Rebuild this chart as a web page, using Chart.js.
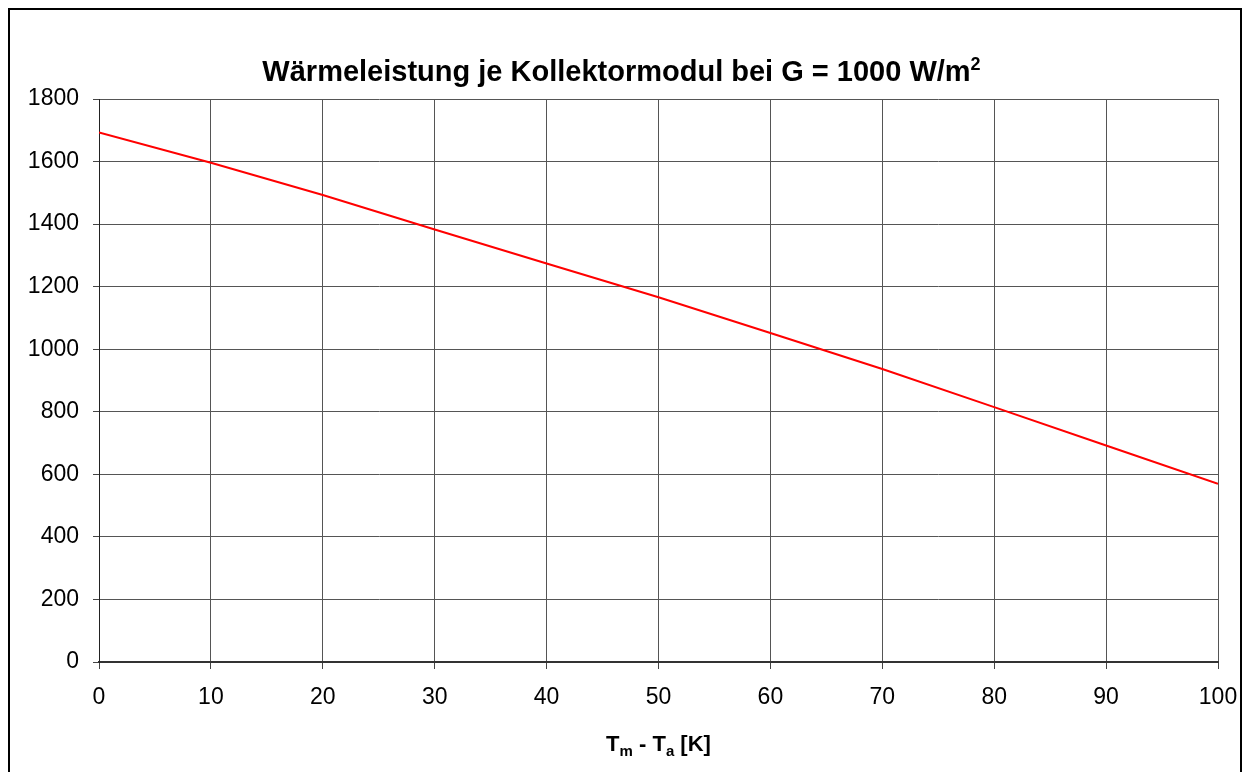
<!DOCTYPE html>
<html>
<head>
<meta charset="utf-8">
<script src="https://cdn.jsdelivr.net/npm/chart.js@4"></script>
<style>
  html, body { margin: 0; padding: 0; background: #fff; }
  #wrap { position: relative; width: 1243px; height: 772px; overflow: hidden; }
  #frame { position: absolute; left: 8px; top: 8px; width: 1234px; height: 800px; border: 2px solid #000; box-sizing: border-box; }
  #title { position: absolute; left: 0; width: 1243px; top: 55px; line-height: 34px; text-align: center; font: bold 29px "Liberation Sans", Arial, sans-serif; color: #000; }
  #title sup { font-size: 18px; line-height: 0; }
  #xtitle { position: absolute; left: 0; width: 1317px; top: 731px; line-height: 26px; text-align: center; font: bold 22px "Liberation Sans", Arial, sans-serif; color: #000; }
  #xtitle sub { font-size: 15px; line-height: 0; }
  canvas { position: absolute; left: 0; top: 0; }
</style>
</head>
<body>
<div id="wrap">
  <div id="frame"></div>
  <canvas id="chart" width="1243" height="772"></canvas>
  <div id="title">Wärmeleistung je Kollektormodul bei G = 1000 W/m<sup>2</sup></div>
  <div id="xtitle">T<sub>m</sub> - T<sub>a</sub> [K]</div>
</div>
<script>
const tempDiff = [0, 10, 20, 30, 40, 50, 60, 70, 80, 90, 100];
const heatOutput = [1693, 1596, 1493, 1383, 1274, 1166, 1052, 937, 815, 692, 570];

const ctx = document.getElementById("chart");
const tickFont = { family: "Liberation Sans, Arial", size: 23 };

new Chart(ctx, {
    type: "line",
    data: {
        datasets: [{
            data: tempDiff.map((x, i) => ({ x: x, y: heatOutput[i] })),
            borderColor: "#ff0000",
            borderWidth: 2,
            pointRadius: 0,
            fill: false,
            tension: 0
        }]
    },
    options: {
        responsive: false,
        animation: false,
        layout: { padding: { top: 99, right: 25, left: 0, bottom: 0 } },
        plugins: {
            legend: { display: false },
            tooltip: { enabled: false }
        },
        scales: {
            x: {
                type: "linear",
                min: 0,
                max: 100,
                ticks: { stepSize: 10, color: "#000", padding: 15, font: tickFont, callback: (v) => String(v) },
                grid: { color: "#555", lineWidth: 1, tickLength: 7, tickColor: "#444" },
                border: { color: "#333", width: 2 },
                afterFit: (scale) => { scale.height = 110; scale.paddingRight = 0; scale.paddingLeft = 0; }
            },
            y: {
                min: 0,
                max: 1800,
                ticks: { stepSize: 200, color: "#000", padding: 14, font: tickFont, callback: (v) => String(v) },
                grid: { color: "#555", lineWidth: 1, tickLength: 6, tickColor: "#444" },
                border: { color: "#222", width: 1 },
                afterFit: (scale) => { scale.width = 99; scale.paddingTop = 0; scale.paddingBottom = 0; }
            }
        }
    }
});
</script>
</body>
</html>
